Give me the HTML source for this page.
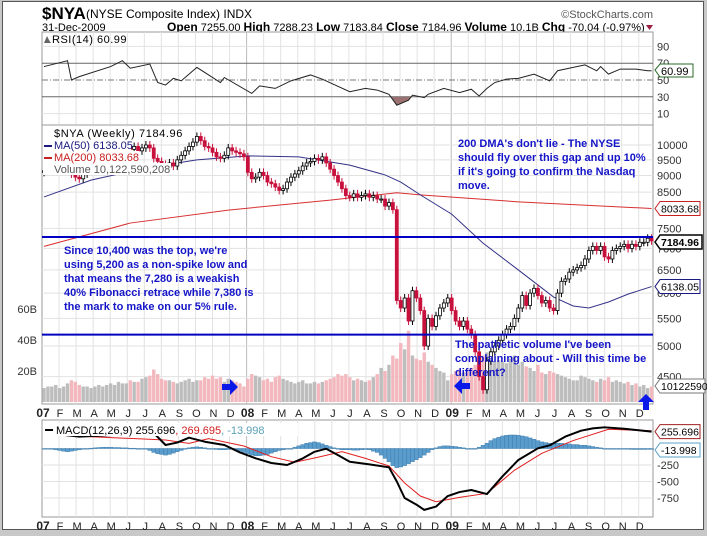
<!DOCTYPE html>
<html><head><meta charset="utf-8">
<style>
html,body{margin:0;padding:0;background:#c8c8c8;}
svg{display:block;font-family:"Liberation Sans",Arial,sans-serif;}
</style></head>
<body>
<svg id="chart" width="707" height="536" viewBox="0 0 707 536" xmlns="http://www.w3.org/2000/svg">
<rect x="0" y="0" width="707" height="536" fill="#c8c8c8"/>
<rect x="2.5" y="1.5" width="701" height="528" fill="#fff" stroke="#555"/>
<g>
<text x="42" y="19" font-size="17" font-weight="bold">$NYA</text>
<text x="86" y="18" font-size="12">(NYSE Composite Index) INDX</text>
<text x="42" y="31" font-size="11">31-Dec-2009</text>
<text y="31" font-size="11" font-family="'Liberation Sans Narrow','Liberation Sans',sans-serif"><tspan x="167" font-weight="bold" font-size="12">Open</tspan><tspan> 7255.00 </tspan><tspan font-weight="bold" font-size="12">High</tspan><tspan> 7288.23 </tspan><tspan font-weight="bold" font-size="12">Low</tspan><tspan> 7183.84 </tspan><tspan font-weight="bold" font-size="12">Close</tspan><tspan> 7184.96 </tspan><tspan font-weight="bold" font-size="12">Volume</tspan><tspan> 10.1B </tspan><tspan font-weight="bold" font-size="12">Chg</tspan><tspan> -70.04 (-0.97%)</tspan></text>
<path d="M646 25 L653 25 L649.5 30 Z" fill="#9a2040"/>
<text x="653" y="18" font-size="11" text-anchor="end" fill="#555">©StockCharts.com</text>
</g>
<g id="rsiPanel"></g>
<g id="mainPanel"></g>
<g id="macdPanel"></g>
<g id="axes"></g>
</svg>
<script>
// ---- data ----
const closes2007 = [9150,9200,9250,9300, 9400,9500,9550,9050, 8950,8900,9050,9150,9200, 9300,9450,9600,9650, 9750,9800,9850,9900,9950, 9850,9950,9800,9900, 10000,9900,9550,9450, 9350,9250,9400,9300,9500, 9650,9800,9950,10100, 10300,10150,9950,9900, 9750,9600,9550,9650,9900, 9800,9750,9700,9600];
const closes2008 = [9100,8900,8950,9100, 9000,8800,8750,8650, 8550,8600,8800,8950,9050, 9150,9300,9400,9450, 9550,9500,9600,9400, 9200,9000,8800,8600, 8400,8350,8450,8350, 8400,8450,8350,8400,8300, 8300,8100,8200,8000, 5850,5700,5900,5450, 6050,5900,5650,5000,5500, 5350,5550,5700,5800,5900];
const closes2009 = [5650,5450,5350,5450, 5300,5200,4900,4500, 4300,4750,4900,5000,5100, 5200,5300,5350,5500, 5700,5950,5750,6000, 6100,5950,5800,5850, 5700,5650,6000,6250,6300, 6450,6500,6550,6600, 6750,6950,7050,6950, 7050,6800,6750,6950,7000, 7050,7100,7000,7100, 7050,7150,7150,7250,7184.96];
const firstOpen = 9100;
const volume2007 = [9,10,10,11,9,10,12,14,13,11,10,10,9,10,11,10,11,12,11,13,12,12,14,13,13,15,16,17,21,18,15,14,14,13,12,13,14,15,13,14,14,16,15,17,15,16,13,15,14,13,12,10];
const volume2008 = [15,18,17,16,14,15,13,16,17,15,14,13,12,13,14,12,12,13,12,13,14,15,16,18,17,18,16,14,15,14,13,14,16,18,22,20,24,30,28,38,34,46,30,28,27,32,26,24,22,20,19,14];
const volume2009 = [18,20,21,19,20,22,24,23,30,32,33,26,27,26,25,28,30,24,26,23,22,20,24,19,18,20,19,18,17,16,15,14,14,17,16,15,14,13,15,14,16,13,14,13,12,13,11,12,10,11,9,10];
const ma50Weeks = [0,12,26,39,52,65,78,87,91,96,104,112,121,130,135,139,144,149,155];
const ma50Vals = [8360,8860,9240,9500,9630,9600,9330,9020,8800,8420,7880,7130,6500,5920,5740,5700,5820,5980,6138.05];
const ma200Weeks = [0,22,47,73,90,96,121,155];
const ma200Vals = [7050,7640,7990,8270,8480,8420,8220,8033.68];
const rsiWeeks = [0,6,7,9,17,20,22,27,29,31,33,35,39,42,45,46,53,55,59,63,68,71,78,82,85,88,90,93,94,97,98,102,106,109,111,113,115,118,121,125,129,131,135,138,141,142,144,147,151,154,155];
const rsiVals = [66,73,50,54,66,73,64,69,47,44,52,49,65,56,47,53,34,43,40,49,56,51,36,40,38,33,20,26,32,29,33,40,35,39,31,40,47,51,52,57,49,61,65,68,61,66,57,63,63,61,60.99];
const macdWeeks = [0,9,28,31,34,37,41,46,50,54,58,62,66,69,72,75,78,83,88,90,92,95,97,100,103,106,109,113,117,121,126,129,133,137,140,143,148,155];
const macdVals = [240,179,235,53,90,164,103,53,-60,-149,-220,-250,-150,-50,-3,-100,-200,-240,-285,-500,-750,-850,-930,-880,-720,-660,-629,-690,-420,-174,3,48,180,270,305,321,300,255.696];
const signalWeeks = [0,31,37,42,51,58,64,70,76,82,88,92,96,100,106,113,120,127,135,144,155];
const signalVals = [210,129,78,149,38,-124,-209,-130,-48,-150,-265,-523,-720,-806,-740,-679,-330,-73,120,291,269.695];
const histVals = [0,-5,-10,-20,-30,-40,-50,-40,-30,-20,-10,0,5, 10,15,20,20,20,15,15,10,10,5,5,0,0, -10,-30,-60,-80,-90,-100,-90,-70,-50,-30,-10,10,20, 25,20,10,0,-10,-15,-20,-20,-15,-10,-20,-40,-60, -80,-100,-110,-110,-100,-90,-70,-50,-30,-20,-10,0,20, 40,60,80,90,100,90,70,50,30,10,-10,-20,-20, -20,-25,-25,-20,-15,-20,-40,-60,-100,-150,-200,-260,-290, -280,-260,-230,-200,-170,-140,-100,-60,-20,10,30,40,40, 35,30,20,10,0,-10,-5,20,50,80,120,150,170, 190,200,205,205,200,190,180,160,140,120,100,90,80, 80,80,80,70,70,60,60,50,50,40,30,20,10, 0,-5,-5,-10,-10,-10,-10,-15,-15,-15,-15,-14,-14];
const priceTicks = [10000,9500,9000,8500,7500,7000,6500,6000,5500,5000,4500];
const volTicks = [20,40,60];
const rsiTicks = [90,70,50,30,10];
const macdTicks = [-250,-500,-750];
const monthLabels = ["07","F","M","A","M","J","J","A","S","O","N","D","08","F","M","A","M","J","J","A","S","O","N","D","09","F","M","A","M","J","J","A","S","O","N","D"];

// ---- scales ----
const PL = 42, PR = 653;
const xw = i => 44 + i * 3.92;
const xm = k => 42 + k * 17.05;
const yP = p => 145 + 290 * Math.log(10000 / p);
const yV = v => 402 - v * 1.55;
const yR = v => 80 - (v - 50) * 0.84;
const yM = v => 448.5 - v * 0.066;
const NS = "http://www.w3.org/2000/svg";
function mk(parent, tag, attrs, text) {
  const e = document.createElementNS(NS, tag);
  for (const k in attrs) e.setAttribute(k, attrs[k]);
  if (text !== undefined) e.textContent = text;
  parent.appendChild(e);
  return e;
}
const closes = closes2007.concat(closes2008, closes2009);
const volumes = volume2007.concat(volume2008, volume2009);
const svg = document.getElementById('chart');
const rsiG = document.getElementById('rsiPanel');
const mainG = document.getElementById('mainPanel');
const macdG = document.getElementById('macdPanel');
const axG = document.getElementById('axes');

function panel(g, y0, y1, name) {
  const r = mk(g, 'rect', {x: PL, y: y0, width: PR - PL, height: y1 - y0, fill: '#fff', stroke: '#999'});
  
  
  for (let k = 1; k < 36; k++) {
    const l = mk(g, 'line', {x1: xm(k), x2: xm(k), y1: y0, y2: y1, stroke: (k % 12 === 0) ? '#bbb' : '#e2e2e2'});
    
    
  }
}
panel(rsiG, 32, 125, 'rsi-plot-area');
panel(mainG, 125, 404, 'price-plot-area');
panel(macdG, 420, 517, 'macd-plot-area');

// ---- RSI ----
rsiTicks.forEach(t => {
  const y = yR(t);
  const attrs = {x1: PL, x2: PR, y1: y, y2: y, stroke: (t === 70 || t === 30) ? '#666' : (t === 50 ? '#777' : '#e2e2e2')};
  if (t === 50) attrs['stroke-dasharray'] = '6,2,1,2';
  const l = mk(rsiG, 'line', attrs);
  
  
  const tx = mk(rsiG, 'text', {x: 657, y: y + 4, 'font-size': 11, fill: '#333'}, String(t));
  
  
});
const rsiPts = rsiWeeks.map((w, i) => xw(w) + ',' + yR(rsiVals[i]));
mk(svg, 'defs', {}).innerHTML = '<clipPath id="below30"><rect x="42" y="' + yR(30) + '" width="611" height="40"/></clipPath>';
const rsiFill = mk(rsiG, 'polygon', {points: rsiPts.join(' ') + ' ' + xw(155) + ',' + yR(30) + ' ' + xw(0) + ',' + yR(30), fill: '#9a7070', 'clip-path': 'url(#below30)'});


const rsiLine = mk(rsiG, 'polyline', {points: rsiPts.join(' '), fill: 'none', stroke: '#222', 'stroke-width': 1});


const rsiLab = mk(rsiG, 'text', {x: 52, y: 43, 'font-size': 11, 'letter-spacing': '0.5'}, 'RSI(14) 60.99');


const rsiIcon = mk(rsiG, 'path', {d: 'M44 43 L47 36 L49 40 L51 43 Z', fill: '#666'});


const rsiTag = mk(rsiG, 'path', {d: 'M655 70 L660 64 L693 64 L693 77 L660 77 Z', fill: '#fff', stroke: '#2a6a2a'});


const rsiTagT = mk(rsiG, 'text', {x: 661, y: 75, 'font-size': 11}, '60.99');



// ---- Price panel ----
priceTicks.forEach(p => {
  const y = yP(p);
  const l = mk(mainG, 'line', {x1: PL, x2: PR, y1: y, y2: y, stroke: '#e2e2e2'});
  
  
  const t = mk(mainG, 'text', {x: 657, y: y + 4, 'font-size': 11, fill: '#333'}, String(p));
  
  
});
volTicks.forEach(v => {
  const t = mk(mainG, 'text', {x: 37, y: yV(v) + 4, 'font-size': 11, 'text-anchor': 'end', fill: '#333'}, v + 'B');
  
  
});
volumes.forEach((v, i) => {
  const prev = i === 0 ? firstOpen : closes[i - 1];
  const down = closes[i] < prev;
  const b = mk(mainG, 'rect', {x: xw(i) - 1.7, y: yV(v), width: 3.4, height: yV(0) - yV(v), fill: down ? '#f2b8be' : '#bdbdbd'});
  
  
});
const ma200 = mk(mainG, 'polyline', {points: ma200Weeks.map((w, i) => xw(w) + ',' + yP(ma200Vals[i])).join(' '), fill: 'none', stroke: '#d83030', 'stroke-width': 1});


const ma50 = mk(mainG, 'polyline', {points: ma50Weeks.map((w, i) => xw(w) + ',' + yP(ma50Vals[i])).join(' '), fill: 'none', stroke: '#333388', 'stroke-width': 1});


closes.forEach((c, i) => {
  const o = i === 0 ? firstOpen : closes[i - 1];
  const x = xw(i);
  const down = c < o;
  const yt = Math.min(yP(o), yP(c)), yb = Math.max(yP(o), yP(c));
  const col = down ? '#c8103c' : '#000';
  const w = mk(mainG, 'line', {x1: x, x2: x, y1: yt - 4, y2: yb + 4, stroke: col});
  
  
  const b = mk(mainG, 'rect', {x: x - 1.5, y: yt, width: 3, height: Math.max(1, yb - yt), fill: down ? '#c8103c' : '#fff', stroke: col, 'stroke-width': 0.8});
  
  
});
[7280, 5200].forEach(p => {
  const l = mk(mainG, 'line', {x1: PL, x2: PR, y1: yP(p), y2: yP(p), stroke: '#0000c0', 'stroke-width': 2});
  
  
});
// legend
const legendLines = [
  ['$NYA (Weekly) 7184.96', '#000', 137, 143],
  ['MA(50) 6138.05', '#1a1a80', 149, 88],
  ['MA(200) 8033.68', '#c82020', 161, 96],
  ['Volume 10,122,590,208', '#555', 173, 128]
];
legendLines.forEach((l, i) => {
  const r = mk(mainG, 'rect', {x: 43, y: l[2] - 10, width: l[3], height: 12, fill: '#fff'});
  
  
});
legendLines.forEach((l, i) => {
  const t = mk(mainG, 'text', {x: 54, y: l[2], 'font-size': 11, fill: l[1], 'letter-spacing': i === 0 ? '0.6' : '0'}, l[0]);
  
  
});
[['#1a1a80', 145], ['#c82020', 157]].forEach(m => {
  const r = mk(mainG, 'rect', {x: 44, y: m[1], width: 8, height: 2, fill: m[0]});
  
  
});
const annots = [
  [64, [254, 268, 282, 296, 310], ["Since 10,400 was the top, we're", "using 5,200 as a non-spike low and", "that means the 7,280 is a weakish", "40% Fibonacci retrace while 7,380 is", "the mark to make on our 5% rule."], 'annotation-fibonacci'],
  [458, [147, 161, 175, 189], ["200 DMA's don't lie - The NYSE", "should fly over this gap and up 10%", "if it's going to confirm the Nasdaq", "move."], 'annotation-200dma'],
  [455, [348, 362, 376], ["The pathetic volume I've been", "complaining about - Will this time be", "different?"], 'annotation-volume']
];
annots.forEach(a => {
  a[2].forEach((s, i) => {
    const t = mk(mainG, 'text', {x: a[0], y: a[1][i], 'font-size': 11, 'font-weight': 'bold', fill: '#1414c8'}, s);
    
    
  });
});
const arrows = [
  'M222 384 L230 384 L230 379 L238 387 L230 395 L230 390 L222 390 Z',
  'M470 383 L462 383 L462 378 L454 386 L462 394 L462 389 L470 389 Z',
  'M643 410 L643 402 L638 402 L646 394 L654 402 L649 402 L649 410 Z'
];
arrows.forEach(d => {
  const p = mk(mainG, 'path', {d: d, fill: '#0a18e8'});
  
  
});
function tag(g, y, text, stroke, bold, name, w) {
  const p = mk(g, 'path', {d: `M655 ${y} L660 ${y - 7} L${660 + w} ${y - 7} L${660 + w} ${y + 7} L660 ${y + 7} Z`, fill: '#fff', stroke: stroke, 'stroke-width': bold ? 1.5 : 1});
  
  
  const t = mk(g, 'text', {x: 661, y: y + 4, 'font-size': 10.5, 'font-weight': bold ? 'bold' : 'normal', fill: '#000'}, text);
  
  
}
tag(mainG, yP(8033.68), '8033.68', '#c82020', false, 'ma200-value', 40);
tag(mainG, 242, '7184.96', '#000', true, 'close-value', 42);
tag(mainG, yP(6138.05), '6138.05', '#1a1a80', false, 'ma50-value', 40);
tag(mainG, 386, '10122590', '#777', false, 'volume-value', 45);

// ---- MACD ----
[0].concat(macdTicks).forEach(v => {
  const l = mk(macdG, 'line', {x1: PL, x2: PR, y1: yM(v), y2: yM(v), stroke: '#e2e2e2'});
  
  
});
macdTicks.forEach(v => {
  const t = mk(macdG, 'text', {x: 657, y: yM(v) + 4, 'font-size': 11, fill: '#333'}, String(v));
  
  
});
histVals.forEach((v, i) => {
  const y0 = yM(0), y1 = yM(v);
  const b = mk(macdG, 'rect', {x: xw(i) - 2, y: Math.min(y0, y1), width: 4, height: Math.max(0.8, Math.abs(y1 - y0)), fill: '#5a9ccc', stroke: '#3a78a8', 'stroke-width': 0.4});
  
  
});
const sig = mk(macdG, 'polyline', {points: signalWeeks.map((w, i) => xw(w) + ',' + yM(signalVals[i])).join(' '), fill: 'none', stroke: '#e02020', 'stroke-width': 1});


const mac = mk(macdG, 'polyline', {points: macdWeeks.map((w, i) => xw(w) + ',' + yM(macdVals[i])).join(' '), fill: 'none', stroke: '#000', 'stroke-width': 2, 'stroke-linejoin': 'round'});


const mlbg = mk(macdG, 'rect', {x: 43, y: 423, width: 255, height: 13, fill: '#fff'});


const mlsw = mk(macdG, 'rect', {x: 45, y: 429, width: 8, height: 2, fill: '#000'});


const ml = mk(macdG, 'text', {x: 56, y: 434, 'font-size': 11}, '');


ml.innerHTML = '<tspan>MACD(12,26,9) 255.696</tspan><tspan fill="#d02020">, 269.695</tspan><tspan fill="#5aa0b8">, -13.998</tspan>';
tag(macdG, yM(255.696), '255.696', '#a02020', false, 'macd-value', 40);
tag(macdG, 450, '-13.998', '#5aa0c8', false, 'histogram-value', 40);

// ---- date axes ----
[413, 526].forEach(y => {
  monthLabels.forEach((m, k) => {
    const yr = k % 12 === 0;
    const t = mk(axG, 'text', {x: xm(k) + 1, y: y + 4, 'font-size': yr ? 12 : 11, 'font-weight': yr ? 'bold' : 'normal', 'text-anchor': 'middle', fill: '#222'}, m);
    
    
  });
});
</script>
</body></html>
